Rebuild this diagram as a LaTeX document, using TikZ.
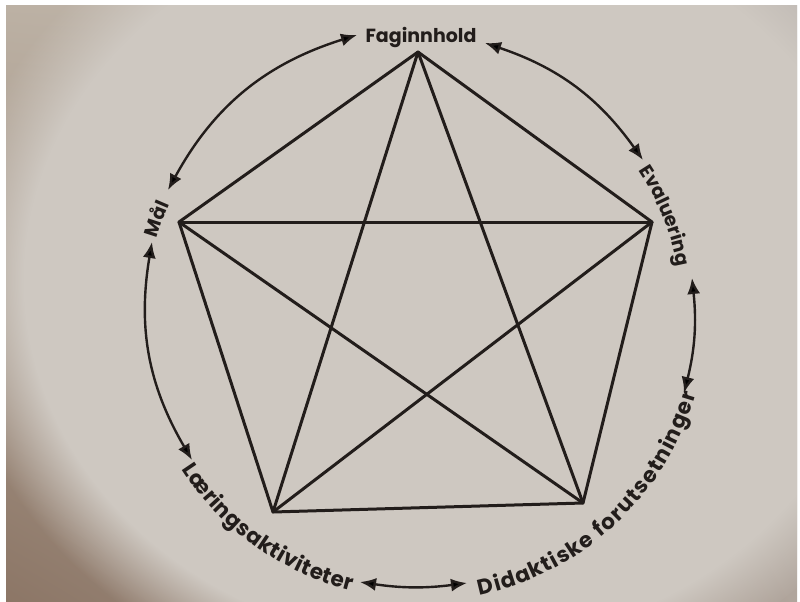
\documentclass[tikz,border=0pt]{standalone}
\usepackage{fontspec}
\setmainfont{Poppins}
\usetikzlibrary{arrows.meta,decorations.text,calc,fadings,shadings}
\definecolor{ink}{RGB}{34,29,27}
\definecolor{bgUL}{RGB}{188,177,164}
\definecolor{bgUR}{RGB}{188,182,177}
\definecolor{bgLL}{RGB}{140,118,102}
\definecolor{bgLR}{RGB}{176,165,156}
\definecolor{bgC}{RGB}{206,200,193}
\newcommand\lblfont{\fontsize{19}{22}\selectfont\bfseries}
\newcommand\lblfontB{\fontsize{21.5}{24}\selectfont\bfseries}
\begin{document}
\begin{tikzpicture}[x=1pt,y=1pt,
  edge/.style={line width=3pt, draw=ink, line cap=round, line join=round},
  link/.style={line width=2.4pt, draw=ink, {Latex[length=16pt,width=13pt]}-{Latex[length=16pt,width=13pt]}},
  lbl/.style={font=\lblfont, text=ink, inner sep=0pt},
  arclbl/.style={decorate, decoration={text along path, text align=center, text color=ink, text={|\lblfont|#1}}},
  fitlbl/.style={decorate, decoration={text along path, text align={fit to path}, text color=ink, text={|\lblfontB|#1}}}
]
\useasboundingbox (0,-602) rectangle (800,0);
\fill[white] (0,-602) rectangle (800,0);
\begin{scope}
  \clip (6,-602) rectangle (797,-6);
  \shade[upper left=bgUL, upper right=bgUR, lower left=bgLL, lower right=bgLR] (6,-602) rectangle (797,-6);
  \fill[bgC, path fading=circle with fuzzy edge 15 percent] (450,-280) ellipse[x radius=500, y radius=430];
\end{scope}

\coordinate (C) at (420,-315);
% pentagon vertices
\coordinate (F) at (418,-52);
\coordinate (E) at (652,-222);
\coordinate (D) at (583,-503);
\coordinate (L) at (273,-512);
\coordinate (M) at (179,-222);

\draw[edge] (F) -- (E) -- (D) -- (L) -- (M) -- cycle;
\draw[edge] (F) -- (D);
\draw[edge] (F) -- (L);
\draw[edge] (M) -- (E);
\draw[edge] (M) -- (D);
\draw[edge] (E) -- (L);

% labels
\node[lbl, anchor=base] (fag) at (421,-43) {Faginnhold};
\path[arclbl=Evaluering] ($(C)+(44:262)$) arc[start angle=44, end angle=0, radius=262];
\path[arclbl=Mål] ($(C)+(175:274)$) arc[start angle=175, end angle=145, radius=274];
\path[fitlbl={Didaktiske forutsetninger}] ($(C)+(-78:287)$) arc[start angle=-78, end angle=-16, radius=287];
\path[fitlbl=Læringsaktiviteter] ($(C)+(-147:284)$) arc[start angle=-147, end angle=-104, radius=284];

% arrow ends
\coordinate (a1) at (357,-35);
\coordinate (b1) at (168,-190);
\coordinate (a2) at (485,-43);
\coordinate (b2) at (643,-160);
\coordinate (a3) at (692,-278);
\coordinate (b3) at (684,-393);
\coordinate (a4) at (360,-582);
\coordinate (b4) at (467,-583);
\coordinate (a5) at (152,-242);
\coordinate (b5) at (192,-460);

\draw[link] (a1) to[bend right=22] (b1);
\draw[link] (a2) to[bend left=18] (b2);
\draw[link] (a3) to[bend left=10] (b3);
\draw[link] (a4) to[bend right=8] (b4);
\draw[link] (a5) to[bend right=20] (b5);
\end{tikzpicture}
\end{document}
